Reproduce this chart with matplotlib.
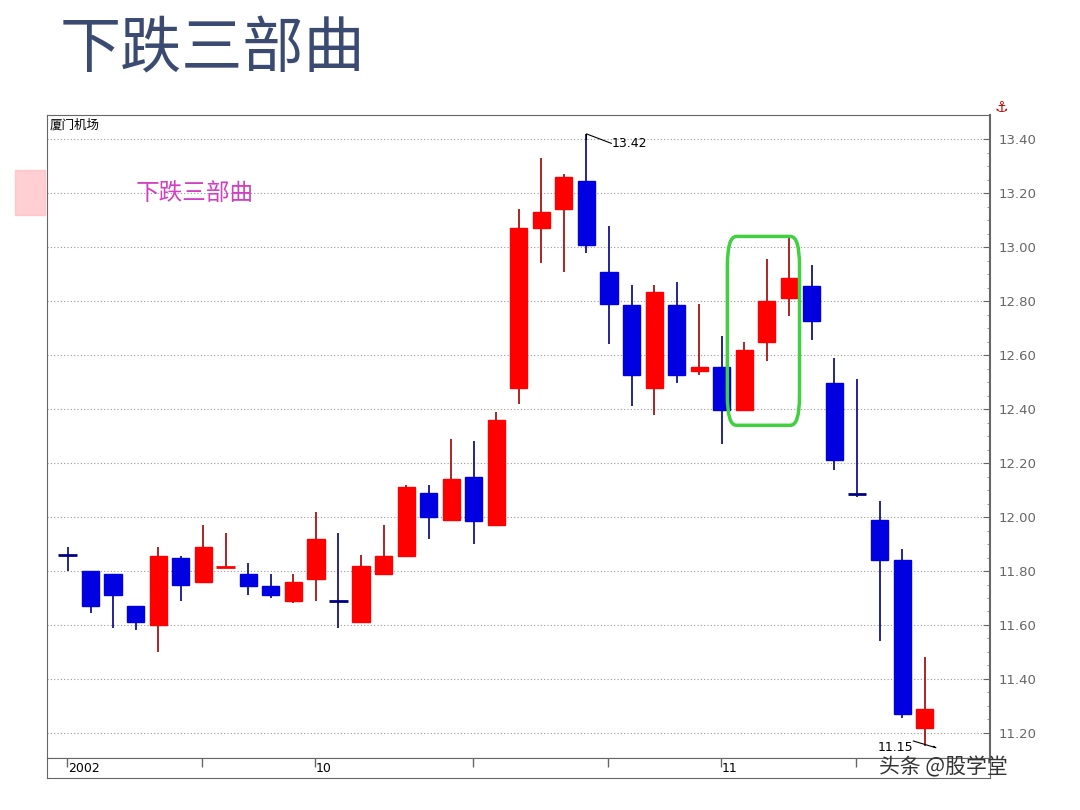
import matplotlib.pyplot as plt
from matplotlib.patches import FancyBboxPatch, Rectangle
import numpy as np

plt.rcParams['font.family'] = ['Noto Sans CJK SC', 'DejaVu Sans']

opens = [11.86, 11.80, 11.79, 11.67, 11.60, 11.85, 11.76, 11.81, 11.79, 11.745,
         11.69, 11.77, 11.69, 11.61, 11.79, 11.855, 12.09, 11.99, 12.15, 11.97,
         12.48, 13.07, 13.14, 13.245, 12.91, 12.785, 12.48, 12.785, 12.54, 12.555,
         12.395, 12.65, 12.81, 12.855, 12.495, 12.085, 11.99, 11.84, 11.22]
closes = [11.86, 11.67, 11.71, 11.61, 11.855, 11.75, 11.89, 11.82, 11.745, 11.71,
          11.76, 11.92, 11.69, 11.82, 11.855, 12.11, 12.00, 12.14, 11.985, 12.36,
          13.07, 13.13, 13.26, 13.01, 12.79, 12.525, 12.835, 12.525, 12.555, 12.395,
          12.62, 12.80, 12.885, 12.725, 12.21, 12.085, 11.84, 11.27, 11.29]
highs = [11.89, 11.80, 11.79, 11.67, 11.89, 11.855, 11.97, 11.94, 11.83, 11.79,
         11.79, 12.02, 11.94, 11.86, 11.97, 12.12, 12.12, 12.29, 12.28, 12.39,
         13.14, 13.33, 13.27, 13.42, 13.08, 12.86, 12.86, 12.87, 12.79, 12.67,
         12.65, 12.955, 13.045, 12.935, 12.59, 12.51, 12.06, 11.88, 11.48]
lows = [11.80, 11.645, 11.59, 11.58, 11.50, 11.69, 11.755, 11.81, 11.71, 11.70,
        11.68, 11.69, 11.59, 11.61, 11.79, 11.855, 11.92, 11.99, 11.90, 11.965,
        12.42, 12.94, 12.91, 12.98, 12.64, 12.41, 12.38, 12.495, 12.525, 12.27,
        12.395, 12.58, 12.745, 12.655, 12.175, 12.075, 11.54, 11.255, 11.15]
price_ticks = [11.20, 11.40, 11.60, 11.80, 12.00, 12.20, 12.40, 12.60, 12.80, 13.00, 13.20, 13.40]
date_labels = {0: '2002', 11: '10', 29: '11'}

RED = '#ff0000'
BLUE = '#0000e0'
NAVY = '#000080'

fig = plt.figure(figsize=(10.8, 8.1), dpi=100)
W, H = 1080, 810

def box(l, t, r, b):
    return [l / W, 1 - b / H, (r - l) / W, (b - t) / H]

fig.text(60 / W, 1 - 50 / H, '下跌三部曲', fontsize=44, color='#3a4a70', va='center', ha='left',
         fontweight='light')
fig.patches.append(Rectangle((15 / W, 1 - 215 / H), 30 / W, 45 / H, transform=fig.transFigure,
                             color='#ffb0b8', alpha=0.6))

ax = fig.add_axes(box(47, 115, 990, 758))
n = len(opens)
x = np.arange(n)
for i in x:
    o, c, h, l = opens[i], closes[i], highs[i], lows[i]
    if c > o:
        col, wick = RED, '#a00000'
    elif c < o:
        col, wick = BLUE, NAVY
    else:
        col, wick = NAVY, NAVY
    ax.vlines(i, l, h, color=wick, lw=1.2, zorder=2)
    if abs(c - o) < 0.01:
        ax.hlines((o + c) / 2, i - 0.42, i + 0.42, color=col, lw=2, zorder=3)
    else:
        ax.add_patch(Rectangle((i - 0.38, min(o, c)), 0.76, abs(c - o), color=col, zorder=3))

ax.set_xlim(-0.93, 40.9)
ax.set_ylim(11.107, 13.49)
for p in price_ticks:
    ax.axhline(p, color='#999999', lw=0.8, ls=(0, (1, 2)), zorder=1)
ax.set_xticks([])
ax.yaxis.tick_right()
ax.set_yticks(price_ticks)
ax.set_yticklabels([f'{p:.2f}' for p in price_ticks], color='#666666', fontsize=9.5, family='DejaVu Sans')
ax.set_yticks(np.arange(11.2, 13.45, 0.05), minor=True)
ax.tick_params(axis='y', direction='in', length=5, pad=6, color='#666666')
ax.tick_params(axis='y', which='minor', direction='in', length=2, color='#888888')
for s in ax.spines.values():
    s.set_color('#666666')
ax.spines['right'].set_linewidth(1.5)

ax.text(0.003, 0.995, '厦门机场', transform=ax.transAxes, fontsize=9, va='top', ha='left')
ax.text(3, 13.20, '下跌三部曲', fontsize=17, color='#d040c0', fontweight='medium', va='center')

ax.add_patch(FancyBboxPatch((29.25, 12.34), 3.2, 0.70, boxstyle='round,pad=0,rounding_size=0.4',
                            fill=False, ec='#40d040', lw=2.5, zorder=4,
                            mutation_aspect=0.27))

ax.plot([23, 23, 24.1], [13.40, 13.42, 13.385], color='black', lw=0.8)
ax.text(24.1, 13.385, '13.42', fontsize=9, va='center', ha='left', family='DejaVu Sans')
ax.plot([37.5, 38.5, 38.4], [11.17, 11.145, 11.15], color='black', lw=0.8)
ax.text(37.5, 11.145, '11.15', fontsize=9, va='center', ha='right', family='DejaVu Sans')

dax = fig.add_axes(box(47, 758, 990, 778))
dax.set_xlim(-0.93, 40.9)
dax.set_ylim(0, 1)
dax.set_yticks([])
dax.set_xticks([])
for i in [0, 6, 11, 18, 24, 29, 35]:
    dax.vlines(i - 0.05, 0.55, 1, color='#666666', lw=1)
for i, lab in date_labels.items():
    dax.text(i, 0.45, lab, fontsize=9, va='center', ha='left', family='DejaVu Sans')
for s in dax.spines.values():
    s.set_color('#666666')
ax.text(1.005, 1.0, '⚓', transform=ax.transAxes, color='#c00000', fontsize=11, va='bottom',
        family='DejaVu Sans')

fig.text(879 / W, 1 - 767 / H, '头条 @股学堂', fontsize=15, color='#333333', va='center')

fig.savefig('out.png', dpi=100)
